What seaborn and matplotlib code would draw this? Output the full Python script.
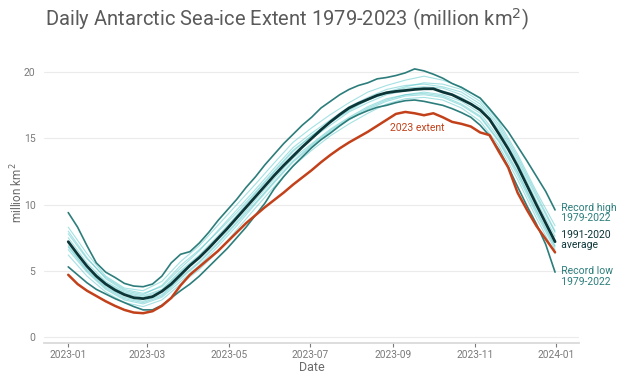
import matplotlib
matplotlib.use("Agg")
import matplotlib.pyplot as plt
import matplotlib.dates as mdates
import pandas as pd
import seaborn as sns

# weekly samples, 2023-01-01 .. 2023-12-31
WEEKS = pd.date_range("2023-01-01", periods=53, freq="7D")
AVG_1991_2020 = [
    7.2, 6.25, 5.35, 4.6, 4.0, 3.55, 3.2, 2.97, 2.9, 3.05, 3.45, 4.0, 4.7, 5.4,
    6.0, 6.7, 7.45, 8.2, 9.0, 9.8, 10.6, 11.4, 12.2, 12.95, 13.65, 14.35, 15.0,
    15.65, 16.25, 16.8, 17.3, 17.65, 17.95, 18.25, 18.45, 18.55, 18.62, 18.7,
    18.75, 18.75, 18.5, 18.3, 17.95, 17.6, 17.15, 16.45, 15.35, 14.2, 12.9,
    11.45, 10.0, 8.6, 7.2,
]
RECORD_HIGH = [
    9.4, 8.3, 6.9, 5.6, 4.9, 4.5, 4.05, 3.85, 3.8, 4.0, 4.6, 5.6, 6.25, 6.45,
    7.1, 7.9, 8.8, 9.6, 10.4, 11.3, 12.1, 13.0, 13.8, 14.6, 15.3, 16.0, 16.6,
    17.3, 17.8, 18.3, 18.7, 19.0, 19.2, 19.5, 19.6, 19.75, 19.95, 20.25, 20.1,
    19.85, 19.55, 19.15, 18.85, 18.45, 18.05, 17.25, 16.4, 15.5, 14.4, 13.3,
    12.15, 11.0, 9.6,
]
RECORD_LOW = [
    5.3, 4.7, 4.1, 3.6, 3.25, 2.9, 2.6, 2.3, 2.05, 2.05, 2.4, 2.95, 3.5, 4.0,
    4.6, 5.3, 6.0, 6.7, 7.5, 8.3, 9.2, 10.1, 11.2, 12.1, 12.9, 13.6, 14.3,
    14.9, 15.4, 15.95, 16.45, 16.8, 17.1, 17.35, 17.5, 17.7, 17.85, 17.9, 17.8,
    17.65, 17.5, 17.25, 16.95, 16.6, 16.0, 15.2, 14.15, 12.85, 11.35, 9.9,
    8.55, 7.0, 4.9,
]
EXTENT_2023 = [
    4.7, 4.0, 3.5, 3.1, 2.7, 2.35, 2.05, 1.85, 1.8, 1.95, 2.35, 2.95, 3.9, 4.7,
    5.3, 5.9, 6.5, 7.2, 7.9, 8.6, 9.2, 9.8, 10.35, 10.9, 11.5, 12.05, 12.6,
    13.2, 13.75, 14.25, 14.7, 15.1, 15.5, 15.95, 16.4, 16.85, 17.0, 16.9,
    16.75, 16.9, 16.6, 16.25, 16.1, 15.9, 15.45, 15.25, 14.0, 12.8, 10.9, 9.6,
    8.4, 7.4, 6.4,
]

# a few individual years 1979-2022, fortnightly samples
FORTNIGHTS = pd.date_range("2023-01-01", periods=27, freq="14D")
YEARS = [
    [8.3, 6.3, 4.6, 3.7, 3.5, 4.2, 5.7, 6.9, 8.45, 10.0, 11.55, 13.15, 14.7, 15.8,
     16.8, 17.7, 18.5, 19.0, 19.4, 19.7, 19.4, 18.9, 18.0, 16.25, 13.8, 11.0, 8.4],
    [7.8, 5.9, 4.5, 3.6, 3.3, 3.8, 5.2, 6.5, 8.05, 9.6, 11.15, 12.75, 14.3, 15.4,
     16.4, 17.4, 18.1, 18.7, 19.0, 19.1, 18.9, 18.5, 17.6, 15.85, 13.4, 10.6, 7.9],
    [7.5, 5.6, 4.2, 3.4, 3.1, 3.6, 5.0, 6.2, 7.65, 9.2, 10.85, 12.45, 14.0, 15.2,
     16.2, 17.1, 17.9, 18.4, 18.8, 18.9, 18.8, 18.3, 17.4, 15.65, 13.2, 10.3, 7.6],
    [6.9, 5.1, 3.8, 3.0, 2.7, 3.2, 4.5, 5.7, 7.15, 8.7, 10.35, 11.95, 13.5, 14.6,
     15.7, 16.6, 17.4, 18.0, 18.3, 18.5, 18.3, 17.8, 16.9, 15.05, 12.5, 9.6, 6.9],
    [6.6, 4.9, 3.6, 2.8, 2.5, 3.0, 4.2, 5.4, 6.85, 8.4, 10.05, 11.65, 13.2, 14.4,
     15.5, 16.4, 17.2, 17.8, 18.2, 18.3, 18.1, 17.5, 16.6, 14.75, 12.2, 9.3, 6.6],
    [6.2, 4.6, 3.4, 2.6, 2.3, 2.8, 4.0, 5.1, 6.45, 8.1, 9.75, 11.35, 12.9, 14.1,
     15.2, 16.1, 16.9, 17.6, 18.0, 18.1, 17.9, 17.3, 16.3, 14.45, 11.9, 9.0, 6.3],
    [7.2, 5.4, 4.1, 3.3, 3.0, 3.5, 4.9, 6.1, 7.45, 9.1, 10.65, 12.25, 13.8, 15.0,
     16.0, 17.0, 17.7, 18.3, 18.6, 18.8, 18.6, 18.1, 17.2, 15.45, 12.9, 10.0, 7.3],
    [8.0, 6.0, 4.4, 3.5, 3.2, 3.9, 5.4, 6.6, 7.95, 9.4, 10.95, 12.55, 14.1, 15.2,
     16.3, 17.2, 17.9, 18.5, 18.9, 19.2, 19.1, 18.7, 17.8, 16.05, 13.6, 10.8, 8.0],
    [6.8, 5.0, 3.7, 2.9, 2.6, 3.1, 4.4, 5.6, 7.05, 8.6, 10.15, 11.75, 13.3, 14.5,
     15.6, 16.5, 17.3, 17.9, 18.3, 18.4, 18.2, 17.6, 16.7, 14.85, 12.4, 9.5, 6.8],
]

sns.set_theme(style="white")
plt.rcParams["font.family"] = ["Roboto", "DejaVu Sans"]

TEAL = "#2c7d7b"
DARK = "#0c3538"
RED = "#c2411a"
GREY = "#7a7a7a"

fig, ax = plt.subplots(figsize=(6.36, 3.88), dpi=100)
fig.subplots_adjust(left=0.069, right=0.911, bottom=0.116, top=0.848)

for vals in YEARS:
    sns.lineplot(x=FORTNIGHTS, y=vals, ax=ax, color="#4cc4c7", lw=0.8, alpha=0.5)
sns.lineplot(x=WEEKS, y=RECORD_HIGH, ax=ax, color=TEAL, lw=1.2)
sns.lineplot(x=WEEKS, y=RECORD_LOW, ax=ax, color=TEAL, lw=1.2)
sns.lineplot(x=WEEKS, y=EXTENT_2023, ax=ax, color=RED, lw=1.8)
sns.lineplot(x=WEEKS, y=AVG_1991_2020, ax=ax, color=DARK, lw=2.0)

ax.set_ylim(-0.45, 21)
ax.set_yticks([0, 5, 10, 15, 20])
ax.grid(axis="y", color="#ebebeb", lw=0.8)
ax.grid(axis="x", visible=False)
for side in ["left", "right", "top"]:
    ax.spines[side].set_visible(False)
ax.spines["bottom"].set_color("#d8d8d8")

ax.xaxis.set_major_locator(mdates.MonthLocator(bymonth=[1, 3, 5, 7, 9, 11]))
ax.xaxis.set_major_formatter(mdates.DateFormatter("%Y-%m"))
ax.tick_params(axis="x", colors=GREY, labelsize=7.3, length=3, width=0.8, pad=2, bottom=True)
ax.tick_params(axis="y", colors=GREY, labelsize=7.5, length=0, pad=6)

ax.set_xlabel("Date", color="#6a6a6a", fontsize=9, labelpad=1)
ax.set_ylabel("million km$^2$", color="#6a6a6a", fontsize=8.5)
ax.yaxis.set_label_coords(-0.035, 0.53)

fig.text(0.07, 0.948, "Daily Antarctic Sea-ice Extent 1979-2023 (million km$^2$)",
         fontsize=14.5, color="#5a5a5a", va="center", ha="left")

lx = pd.Timestamp("2024-01-01")
ax.text(pd.Timestamp("2023-09-19"), 15.8, "2023 extent", color=RED, fontsize=7.5,
        ha="center", va="center")
ax.text(lx, 10.15, "  Record high\n  1979-2022", color=TEAL, fontsize=7.5, va="top",
        ha="left", linespacing=1.05)
ax.text(lx, 8.1, "  1991-2020\n  average", color=DARK, fontsize=7.5, va="top",
        ha="left", linespacing=1.05)
ax.text(lx, 5.35, "  Record low\n  1979-2022", color=TEAL, fontsize=7.5, va="top",
        ha="left", linespacing=1.05)

fig.savefig("out.png", dpi=100)
